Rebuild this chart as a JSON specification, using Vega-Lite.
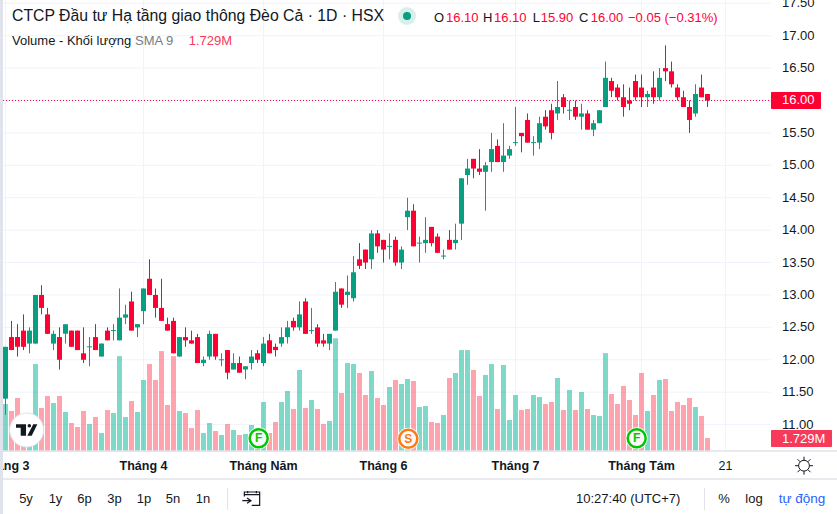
{
  "$schema": "https://vega.github.io/schema/vega-lite/v6.json",
  "width": 837,
  "height": 514,
  "padding": 0,
  "autosize": {"type": "none"},
  "background": "white",
  "config": {
    "font": "Liberation Sans",
    "view": {"stroke": null},
    "axis": {"domain": false, "ticks": false, "labels": false, "grid": false, "titleOpacity": 0}
  },
  "datasets": {
    "prices": [{"price":11},{"price":11.5},{"price":12},{"price":12.5},{"price":13},{"price":13.5},{"price":14},{"price":14.5},{"price":15},{"price":15.5},{"price":16},{"price":16.5},{"price":17},{"price":17.5}],
    "months": [{"i":0,"label":"Tháng 3"},{"i":23,"label":"Tháng 4"},{"i":43,"label":"Tháng Năm"},{"i":63,"label":"Tháng 6"},{"i":85,"label":"Tháng 7"},{"i":106,"label":"Tháng Tám"},{"i":120,"label":"21"}],
    "bars": [
      {"i":0,"open":11.4,"high":12.2,"low":11.15,"close":12.2,"volume":6.15},
      {"i":1,"open":12.35,"high":12.6,"low":12.15,"close":12.15,"volume":5.24},
      {"i":2,"open":12.35,"high":12.55,"low":12.05,"close":12.2,"volume":6.93},
      {"i":3,"open":12.45,"high":12.7,"low":12.15,"close":12.2,"volume":4.07},
      {"i":4,"open":12.25,"high":12.5,"low":12.1,"close":12.45,"volume":3.6},
      {"i":5,"open":12.25,"high":13.0,"low":12.25,"close":13.0,"volume":11.35},
      {"i":6,"open":13.0,"high":13.15,"low":12.7,"close":12.8,"volume":5.63},
      {"i":7,"open":12.7,"high":12.8,"low":12.4,"close":12.4,"volume":7.19},
      {"i":8,"open":12.25,"high":12.45,"low":12.15,"close":12.4,"volume":6.28},
      {"i":9,"open":12.35,"high":12.5,"low":11.85,"close":12.0,"volume":7.19},
      {"i":10,"open":12.4,"high":12.55,"low":12.25,"close":12.55,"volume":5.11},
      {"i":11,"open":12.45,"high":12.45,"low":12.2,"close":12.2,"volume":3.68},
      {"i":12,"open":12.45,"high":12.45,"low":12.15,"close":12.15,"volume":3.16},
      {"i":13,"open":12.1,"high":12.5,"low":11.95,"close":12.0,"volume":5.24},
      {"i":14,"open":12.2,"high":12.35,"low":11.9,"close":12.2,"volume":3.55},
      {"i":15,"open":12.35,"high":12.55,"low":12.15,"close":12.15,"volume":4.46},
      {"i":16,"open":12.05,"high":12.25,"low":12.05,"close":12.25,"volume":2.38},
      {"i":17,"open":12.45,"high":12.5,"low":12.3,"close":12.3,"volume":5.37},
      {"i":18,"open":12.45,"high":12.55,"low":12.3,"close":12.45,"volume":4.98},
      {"i":19,"open":12.3,"high":13.1,"low":12.3,"close":12.65,"volume":12.38},
      {"i":20,"open":12.65,"high":12.85,"low":12.55,"close":12.7,"volume":4.46},
      {"i":21,"open":12.9,"high":13.05,"low":12.45,"close":12.45,"volume":6.54},
      {"i":22,"open":12.5,"high":12.55,"low":12.35,"close":12.55,"volume":5.11},
      {"i":23,"open":12.75,"high":13.1,"low":12.55,"close":13.1,"volume":9.27},
      {"i":24,"open":13.25,"high":13.55,"low":13.0,"close":13.0,"volume":11.35},
      {"i":25,"open":13.0,"high":13.1,"low":12.65,"close":12.8,"volume":9.27},
      {"i":26,"open":12.8,"high":13.25,"low":12.6,"close":12.6,"volume":13.03},
      {"i":27,"open":12.55,"high":12.65,"low":12.45,"close":12.45,"volume":6.02},
      {"i":28,"open":12.6,"high":12.65,"low":12.1,"close":12.1,"volume":12.38},
      {"i":29,"open":12.05,"high":12.35,"low":12.05,"close":12.35,"volume":5.24},
      {"i":30,"open":12.35,"high":12.5,"low":12.2,"close":12.3,"volume":4.98},
      {"i":31,"open":12.3,"high":12.45,"low":12.25,"close":12.25,"volume":3.03},
      {"i":32,"open":12.35,"high":12.4,"low":11.95,"close":11.95,"volume":5.37},
      {"i":33,"open":11.95,"high":12.05,"low":11.9,"close":12.0,"volume":2.38},
      {"i":34,"open":12.05,"high":12.45,"low":12.0,"close":12.4,"volume":3.68},
      {"i":35,"open":12.4,"high":12.4,"low":12.0,"close":12.05,"volume":2.64},
      {"i":36,"open":12.0,"high":12.1,"low":11.9,"close":12.0,"volume":2.12},
      {"i":37,"open":12.15,"high":12.15,"low":11.7,"close":11.8,"volume":3.55},
      {"i":38,"open":11.85,"high":12.1,"low":11.85,"close":11.95,"volume":2.77},
      {"i":39,"open":11.95,"high":12.05,"low":11.8,"close":11.8,"volume":2.12},
      {"i":40,"open":11.85,"high":11.9,"low":11.7,"close":11.9,"volume":2.25},
      {"i":41,"open":11.95,"high":12.15,"low":11.85,"close":12.05,"volume":3.42},
      {"i":42,"open":12.1,"high":12.15,"low":11.95,"close":12.0,"volume":2.12},
      {"i":43,"open":11.95,"high":12.35,"low":11.9,"close":12.25,"volume":6.41},
      {"i":44,"open":12.3,"high":12.4,"low":12.1,"close":12.1,"volume":2.38},
      {"i":45,"open":12.2,"high":12.25,"low":12.05,"close":12.15,"volume":3.81},
      {"i":46,"open":12.25,"high":12.5,"low":12.2,"close":12.35,"volume":6.41},
      {"i":47,"open":12.35,"high":12.6,"low":12.25,"close":12.5,"volume":7.84},
      {"i":48,"open":12.6,"high":12.65,"low":12.45,"close":12.5,"volume":5.5},
      {"i":49,"open":12.5,"high":12.9,"low":12.45,"close":12.7,"volume":10.57},
      {"i":50,"open":12.9,"high":12.95,"low":12.4,"close":12.4,"volume":5.63},
      {"i":51,"open":12.45,"high":12.8,"low":12.4,"close":12.45,"volume":6.67},
      {"i":52,"open":12.5,"high":12.55,"low":12.2,"close":12.25,"volume":5.5},
      {"i":53,"open":12.3,"high":12.4,"low":12.2,"close":12.25,"volume":3.55},
      {"i":54,"open":12.25,"high":12.4,"low":12.15,"close":12.4,"volume":3.94},
      {"i":55,"open":12.45,"high":13.2,"low":12.45,"close":13.05,"volume":14.7},
      {"i":56,"open":13.1,"high":13.1,"low":12.8,"close":12.85,"volume":7.58},
      {"i":57,"open":13.0,"high":13.3,"low":12.8,"close":13.05,"volume":11.47},
      {"i":58,"open":12.95,"high":13.6,"low":12.9,"close":13.35,"volume":11.35},
      {"i":59,"open":13.55,"high":13.8,"low":13.4,"close":13.45,"volume":10.18},
      {"i":60,"open":13.7,"high":13.7,"low":13.4,"close":13.5,"volume":7.32},
      {"i":61,"open":13.55,"high":14.0,"low":13.4,"close":13.95,"volume":10.44},
      {"i":62,"open":13.95,"high":14.0,"low":13.65,"close":13.75,"volume":6.93},
      {"i":63,"open":13.85,"high":13.85,"low":13.5,"close":13.7,"volume":6.02},
      {"i":64,"open":13.75,"high":13.95,"low":13.55,"close":13.75,"volume":8.36},
      {"i":65,"open":13.85,"high":13.9,"low":13.45,"close":13.5,"volume":9.27},
      {"i":66,"open":13.5,"high":13.75,"low":13.4,"close":13.7,"volume":8.75},
      {"i":67,"open":14.2,"high":14.5,"low":14.0,"close":14.3,"volume":9.4},
      {"i":68,"open":14.3,"high":14.4,"low":13.75,"close":13.75,"volume":9.14},
      {"i":69,"open":13.8,"high":13.9,"low":13.5,"close":13.8,"volume":5.76},
      {"i":70,"open":13.8,"high":14.2,"low":13.65,"close":13.85,"volume":5.89},
      {"i":71,"open":14.05,"high":14.05,"low":13.75,"close":13.8,"volume":3.81},
      {"i":72,"open":13.9,"high":13.95,"low":13.65,"close":13.65,"volume":3.68},
      {"i":73,"open":13.6,"high":13.7,"low":13.55,"close":13.6,"volume":4.72},
      {"i":74,"open":13.85,"high":14.0,"low":13.7,"close":13.7,"volume":9.53},
      {"i":75,"open":13.8,"high":14.1,"low":13.7,"close":13.85,"volume":10.18},
      {"i":76,"open":14.1,"high":14.8,"low":13.85,"close":14.8,"volume":13.16},
      {"i":77,"open":14.85,"high":15.1,"low":14.7,"close":14.95,"volume":13.16},
      {"i":78,"open":15.1,"high":15.1,"low":14.8,"close":14.95,"volume":10.57},
      {"i":79,"open":14.95,"high":15.25,"low":14.85,"close":14.9,"volume":7.19},
      {"i":80,"open":14.9,"high":15.05,"low":14.3,"close":15.0,"volume":9.92},
      {"i":81,"open":15.05,"high":15.5,"low":14.9,"close":15.25,"volume":11.35},
      {"i":82,"open":15.3,"high":15.4,"low":15.05,"close":15.05,"volume":5.5},
      {"i":83,"open":15.05,"high":15.65,"low":14.9,"close":15.15,"volume":11.22},
      {"i":84,"open":15.15,"high":15.3,"low":15.1,"close":15.25,"volume":4.07},
      {"i":85,"open":15.35,"high":15.9,"low":15.3,"close":15.35,"volume":7.32},
      {"i":86,"open":15.5,"high":15.5,"low":15.2,"close":15.45,"volume":5.37},
      {"i":87,"open":15.7,"high":15.8,"low":15.35,"close":15.35,"volume":5.5},
      {"i":88,"open":15.35,"high":15.45,"low":15.15,"close":15.35,"volume":7.32},
      {"i":89,"open":15.35,"high":15.75,"low":15.25,"close":15.65,"volume":7.06},
      {"i":90,"open":15.75,"high":15.85,"low":15.55,"close":15.6,"volume":6.15},
      {"i":91,"open":15.85,"high":15.95,"low":15.4,"close":15.5,"volume":6.41},
      {"i":92,"open":15.8,"high":16.3,"low":15.7,"close":15.9,"volume":9.53},
      {"i":93,"open":16.05,"high":16.1,"low":15.8,"close":15.9,"volume":5.37},
      {"i":94,"open":15.85,"high":16.0,"low":15.7,"close":15.85,"volume":7.97},
      {"i":95,"open":15.9,"high":16.0,"low":15.7,"close":15.75,"volume":5.37},
      {"i":96,"open":15.75,"high":15.95,"low":15.55,"close":15.8,"volume":7.71},
      {"i":97,"open":15.8,"high":15.85,"low":15.55,"close":15.55,"volume":5.5},
      {"i":98,"open":15.55,"high":15.7,"low":15.45,"close":15.65,"volume":4.72},
      {"i":99,"open":15.65,"high":15.85,"low":15.65,"close":15.85,"volume":4.59},
      {"i":100,"open":15.9,"high":16.6,"low":15.9,"close":16.35,"volume":12.77},
      {"i":101,"open":16.3,"high":16.35,"low":16.05,"close":16.15,"volume":7.45},
      {"i":102,"open":16.2,"high":16.25,"low":16.0,"close":16.05,"volume":6.15},
      {"i":103,"open":16.05,"high":16.25,"low":15.75,"close":15.9,"volume":8.49},
      {"i":104,"open":16.0,"high":16.2,"low":15.85,"close":15.95,"volume":6.67},
      {"i":105,"open":16.3,"high":16.4,"low":16.0,"close":16.05,"volume":4.72},
      {"i":106,"open":16.2,"high":16.4,"low":15.9,"close":16.05,"volume":10.18},
      {"i":107,"open":16.05,"high":16.15,"low":15.9,"close":16.1,"volume":5.24},
      {"i":108,"open":16.2,"high":16.45,"low":15.95,"close":16.05,"volume":7.32},
      {"i":109,"open":16.05,"high":16.5,"low":16.0,"close":16.35,"volume":9.27},
      {"i":110,"open":16.5,"high":16.85,"low":16.3,"close":16.45,"volume":9.4},
      {"i":111,"open":16.45,"high":16.6,"low":16.2,"close":16.25,"volume":5.24},
      {"i":112,"open":16.2,"high":16.25,"low":16.0,"close":16.05,"volume":6.41},
      {"i":113,"open":16.05,"high":16.15,"low":15.9,"close":15.9,"volume":6.02},
      {"i":114,"open":15.9,"high":16.0,"low":15.5,"close":15.7,"volume":6.93},
      {"i":115,"open":15.8,"high":16.25,"low":15.75,"close":16.1,"volume":5.76},
      {"i":116,"open":16.2,"high":16.4,"low":16.05,"close":16.05,"volume":4.59},
      {"i":117,"open":16.1,"high":16.1,"low":15.9,"close":16.0,"volume":1.729}
    ]
  },
  "resolve": {"scale": {"y": "independent"}},
  "layer": [
    {
      "layer": [
        {
          "data": {"name": "months"},
          "mark": {"type": "rule", "color": "#f0f3fa", "strokeWidth": 1},
          "encoding": {
            "x": {
              "field": "i", "type": "quantitative", "axis": {"title": null},
              "scale": {"domain": [-0.9167, 138.583], "nice": false, "zero": false, "padding": 0}
            },
            "y": {"datum": 17.5504, "axis": {"title": null}},
            "y2": {"datum": 10.5927}
          }
        },
        {
          "data": {"name": "prices"},
          "mark": {"type": "rule", "color": "#f0f3fa", "strokeWidth": 1},
          "encoding": {
            "y": {
              "field": "price", "type": "quantitative", "axis": {"title": null},
              "scale": {"domain": [9.6208, 17.5504], "nice": false, "zero": false}
            },
            "x": {"datum": -0.4167, "axis": {"title": null}},
            "x2": {"datum": 127.583}
          }
        }
      ]
    },
    {
      "data": {"name": "bars"},
      "mark": {"type": "bar", "size": 5},
      "encoding": {
        "x": {"field": "i", "type": "quantitative", "axis": {"title": null}},
        "y": {"field": "volume", "type": "quantitative", "axis": {"title": null}, "scale": {"domain": [-8.147, 58.67], "nice": false, "zero": false}},
        "y2": {"datum": 0},
        "color": {"condition": {"test": "datum.close>=datum.open", "value": "#00b394"}, "value": "#ff4760"},
        "opacity": {"value": 0.5}
      }
    },
    {
      "layer": [
        {
          "mark": {"type": "rule", "color": "#ff0033", "strokeWidth": 1, "strokeDash": [1, 2]},
          "data": {"values": [{"last": 16}]},
          "encoding": {
            "y": {"field": "last", "type": "quantitative", "axis": {"title": null}, "scale": {"domain": [9.6208, 17.5504], "nice": false, "zero": false}},
            "x": {"datum": -0.4167, "axis": {"title": null}},
            "x2": {"datum": 127.583}
          }
        },
        {
          "data": {"name": "bars"},
          "mark": {"type": "rule", "strokeWidth": 1},
          "encoding": {
            "x": {"field": "i", "type": "quantitative"},
            "y": {"field": "low", "type": "quantitative"},
            "y2": {"field": "high"},
            "color": {"condition": {"test": "datum.close>=datum.open", "value": "#089e80"}, "value": "#ff0033"}
          }
        },
        {
          "data": {"name": "bars"},
          "mark": {"type": "bar", "size": 5},
          "encoding": {
            "x": {"field": "i", "type": "quantitative"},
            "y": {"field": "open", "type": "quantitative"},
            "y2": {"field": "close"},
            "color": {"condition": {"test": "datum.close>=datum.open", "value": "#089e80"}, "value": "#ff0033"}
          }
        },
        {
          "data": {"name": "bars"},
          "transform": [{"filter": "datum.open==datum.close"}],
          "mark": {"type": "tick", "orient": "horizontal", "size": 5, "thickness": 1, "color": "#089e80", "opacity": 1},
          "encoding": {
            "x": {"field": "i", "type": "quantitative"},
            "y": {"field": "close", "type": "quantitative"}
          }
        },
        {
          "data": {"name": "prices"},
          "mark": {"type": "text", "align": "left", "baseline": "middle", "fontSize": 13, "color": "#131722"},
          "encoding": {
            "x": {"datum": 129.417},
            "y": {"field": "price", "type": "quantitative"},
            "text": {"field": "price", "type": "quantitative", "format": ".2f"}
          }
        },
        {
          "data": {"name": "months"},
          "transform": [{"filter": "datum.label!='21'"}],
          "mark": {"type": "text", "align": "center", "baseline": "middle", "fontSize": 12.5, "fontWeight": "bold", "color": "#131722"},
          "encoding": {
            "x": {"field": "i", "type": "quantitative"},
            "y": {"datum": 10.366},
            "text": {"field": "label"}
          }
        },
        {
          "data": {"name": "months"},
          "transform": [{"filter": "datum.label=='21'"}],
          "mark": {"type": "text", "align": "center", "baseline": "middle", "fontSize": 12.5, "color": "#131722"},
          "encoding": {
            "x": {"field": "i", "type": "quantitative"},
            "y": {"datum": 10.366},
            "text": {"field": "label"}
          }
        },
        {
          "mark": {"type": "rect", "color": "#e0e3eb"},
          "data": {"values": [{}]},
          "encoding": {"x": {"datum": -0.9167}, "x2": {"datum": -0.4167}, "y": {"datum": 17.5504}, "y2": {"datum": 9.6208}}
        },
        {
          "mark": {"type": "rule", "color": "#e0e3eb", "strokeWidth": 1.5},
          "data": {"values": [{}]},
          "encoding": {"x": {"datum": -0.4167}, "x2": {"datum": 138.583}, "y": {"datum": 10.5927}}
        },
        {
          "mark": {"type": "rule", "color": "#e0e3eb", "strokeWidth": 1.5},
          "data": {"values": [{}]},
          "encoding": {"x": {"datum": -0.4167}, "x2": {"datum": 138.583}, "y": {"datum": 10.1608}}
        },
        {
          "mark": {"type": "rule", "color": "#e0e3eb", "strokeWidth": 1},
          "data": {"values": [{}]},
          "encoding": {"x": {"datum": 37}, "y": {"datum": 10.022}, "y2": {"datum": 9.6825}}
        },
        {
          "mark": {"type": "rule", "color": "#e0e3eb", "strokeWidth": 1},
          "data": {"values": [{}]},
          "encoding": {"x": {"datum": 116.5}, "y": {"datum": 10.022}, "y2": {"datum": 9.6825}}
        },
        {
          "mark": {"type": "rect", "color": "#ff0033", "cornerRadius": 1},
          "data": {"values": [{}]},
          "encoding": {"x": {"datum": 127.583}, "x2": {"datum": 135.917}, "y": {"datum": 16.1311}, "y2": {"datum": 15.8689}}
        },
        {
          "mark": {"type": "rect", "color": "#f7395a", "cornerRadius": 1},
          "data": {"values": [{}]},
          "encoding": {"x": {"datum": 127.583}, "x2": {"datum": 137.75}, "y": {"datum": 10.9167}, "y2": {"datum": 10.6544}}
        },
        {
          "mark": {"type": "text", "align": "left", "baseline": "middle", "fontSize": 13, "color": "white"},
          "data": {"values": [{}]},
          "encoding": {"x": {"datum": 129.417}, "y": {"datum": 16}, "text": {"value": "16.00"}}
        },
        {
          "mark": {"type": "text", "align": "left", "baseline": "middle", "fontSize": 13, "color": "white"},
          "data": {"values": [{}]},
          "encoding": {"x": {"datum": 129.417}, "y": {"datum": 10.7855}, "text": {"value": "1.729M"}}
        },
        {
          "mark": {"type": "text", "align": "left", "baseline": "alphabetic", "fontSize": 15.8, "color": "#131722"},
          "data": {"values": [{}]},
          "encoding": {"x": {"datum": 1.0833}, "y": {"datum": 17.2265}, "text": {"value": "CTCP Đầu tư Hạ tầng giao thông Đèo Cả · 1D · HSX"}}
        },
        {
          "mark": {"type": "text", "align": "left", "baseline": "alphabetic", "fontSize": 13, "color": "#131722"},
          "data": {"values": [{}]},
          "encoding": {"x": {"datum": 1.0833}, "y": {"datum": 16.8562}, "text": {"value": "Volume - Khối lượng"}}
        },
        {
          "mark": {"type": "text", "align": "left", "baseline": "alphabetic", "fontSize": 13, "color": "#787b86"},
          "data": {"values": [{}]},
          "encoding": {"x": {"datum": 21.5833}, "y": {"datum": 16.8562}, "text": {"value": "SMA 9"}}
        },
        {
          "mark": {"type": "text", "align": "left", "baseline": "alphabetic", "fontSize": 13, "color": "#f7395a"},
          "data": {"values": [{}]},
          "encoding": {"x": {"datum": 30.533}, "y": {"datum": 16.8562}, "text": {"value": "1.729M"}}
        },
        {
          "mark": {"type": "point", "shape": "circle", "filled": true, "size": 324, "color": "#d8f0ea", "opacity": 1},
          "data": {"values": [{}]},
          "encoding": {"x": {"datum": 66.917}, "y": {"datum": 17.3036}}
        },
        {
          "mark": {"type": "point", "shape": "circle", "filled": true, "size": 64, "color": "#089e80", "opacity": 1},
          "data": {"values": [{}]},
          "encoding": {"x": {"datum": 66.917}, "y": {"datum": 17.3036}}
        },
        {
          "mark": {"type": "text", "align": "left", "baseline": "alphabetic", "fontSize": 13, "color": "#131722"},
          "data": {"values": [{}]},
          "encoding": {"x": {"datum": 71.417}, "y": {"datum": 17.211}, "text": {"value": "O"}}
        },
        {
          "mark": {"type": "text", "align": "left", "baseline": "alphabetic", "fontSize": 13, "color": "#ff0033"},
          "data": {"values": [{}]},
          "encoding": {"x": {"datum": 73.417}, "y": {"datum": 17.211}, "text": {"value": "16.10"}}
        },
        {
          "mark": {"type": "text", "align": "left", "baseline": "alphabetic", "fontSize": 13, "color": "#131722"},
          "data": {"values": [{}]},
          "encoding": {"x": {"datum": 79.583}, "y": {"datum": 17.211}, "text": {"value": "H"}}
        },
        {
          "mark": {"type": "text", "align": "left", "baseline": "alphabetic", "fontSize": 13, "color": "#ff0033"},
          "data": {"values": [{}]},
          "encoding": {"x": {"datum": 81.417}, "y": {"datum": 17.211}, "text": {"value": "16.10"}}
        },
        {
          "mark": {"type": "text", "align": "left", "baseline": "alphabetic", "fontSize": 13, "color": "#131722"},
          "data": {"values": [{}]},
          "encoding": {"x": {"datum": 87.867}, "y": {"datum": 17.211}, "text": {"value": "L"}}
        },
        {
          "mark": {"type": "text", "align": "left", "baseline": "alphabetic", "fontSize": 13, "color": "#ff0033"},
          "data": {"values": [{}]},
          "encoding": {"x": {"datum": 89.2}, "y": {"datum": 17.211}, "text": {"value": "15.90"}}
        },
        {
          "mark": {"type": "text", "align": "left", "baseline": "alphabetic", "fontSize": 13, "color": "#131722"},
          "data": {"values": [{}]},
          "encoding": {"x": {"datum": 95.583}, "y": {"datum": 17.211}, "text": {"value": "C"}}
        },
        {
          "mark": {"type": "text", "align": "left", "baseline": "alphabetic", "fontSize": 13, "color": "#ff0033"},
          "data": {"values": [{}]},
          "encoding": {"x": {"datum": 97.533}, "y": {"datum": 17.211}, "text": {"value": "16.00"}}
        },
        {
          "mark": {"type": "text", "align": "left", "baseline": "alphabetic", "fontSize": 13, "color": "#ff0033"},
          "data": {"values": [{}]},
          "encoding": {"x": {"datum": 103.75}, "y": {"datum": 17.211}, "text": {"value": "−0.05 (−0.31%)"}}
        },
        {
          "mark": {"type": "text", "align": "center", "baseline": "middle", "fontSize": 13, "color": "#131722"},
          "data": {"values": [{"label":"5y","at":3.417},{"label":"1y","at":8.333},{"label":"6p","at":13.167},{"label":"3p","at":18.167},{"label":"1p","at":23.083},{"label":"5n","at":27.917},{"label":"1n","at":32.917}]},
          "encoding": {"x": {"field": "at", "type": "quantitative"}, "y": {"datum": 9.852}, "text": {"field": "label"}}
        },
        {
          "mark": {"type": "text", "align": "left", "baseline": "middle", "fontSize": 13, "color": "#131722"},
          "data": {"values": [{}]},
          "encoding": {"x": {"datum": 95.083}, "y": {"datum": 9.852}, "text": {"value": "10:27:40 (UTC+7)"}}
        },
        {
          "mark": {"type": "text", "align": "center", "baseline": "middle", "fontSize": 13, "color": "#131722"},
          "data": {"values": [{}]},
          "encoding": {"x": {"datum": 119.75}, "y": {"datum": 9.852}, "text": {"value": "%"}}
        },
        {
          "mark": {"type": "text", "align": "center", "baseline": "middle", "fontSize": 13, "color": "#131722"},
          "data": {"values": [{}]},
          "encoding": {"x": {"datum": 124.75}, "y": {"datum": 9.852}, "text": {"value": "log"}}
        },
        {
          "mark": {"type": "text", "align": "center", "baseline": "middle", "fontSize": 13.5, "color": "#2962ff"},
          "data": {"values": [{}]},
          "encoding": {"x": {"datum": 132.75}, "y": {"datum": 9.852}, "text": {"value": "tự động"}}
        },
        {
          "mark": {"type": "point", "filled": false, "size": 324, "strokeWidth": 1, "color": "#131722", "opacity": 1, "shape": "M-.6,0A.6,.6 0 1,0 .6,0A.6,.6 0 1,0 -.6,0Z M0,-1L0,-.6 M0,1L0,.6 M1,0L.6,0 M-1,0L-.6,0 M.72,-.72L.43,-.43 M-.72,-.72L-.43,-.43 M.72,.72L.43,.43 M-.72,.72L-.43,.43"},
          "data": {"values": [{}]},
          "encoding": {"x": {"datum": 133.083}, "y": {"datum": 10.366}}
        },
        {
          "mark": {"type": "point", "filled": false, "size": 300, "strokeWidth": 1.2, "color": "#131722", "opacity": 1, "shape": "M-.77,-.2L-.77,-.73L1,-.73L1,.81L.08,.81 M-.77,-.42L1,-.42 M-.38,-.85L-.38,-.58 M.62,-.85L.62,-.58 M-1,.27L0,.27 M-.46,-.04L0,.27L-.46,.58"},
          "data": {"values": [{}]},
          "encoding": {"x": {"datum": 40.917}, "y": {"datum": 9.863}}
        },
        {
          "mark": {"type": "point", "shape": "circle", "filled": true, "size": 1156, "fill": "white", "stroke": "#e0e3eb", "strokeWidth": 1, "opacity": 1},
          "data": {"values": [{}]},
          "encoding": {"x": {"datum": 3.528}, "y": {"datum": 10.9167}}
        },
        {
          "mark": {"type": "point", "filled": true, "size": 455, "color": "#131722", "opacity": 1, "shape": "M-1,-.53H-.06V.53H-.56V-.22H-1Z M.62,-.53H1L.47,.53H.06Z M.09,-.4A.16,.16 0 1,0 .41,-.4A.16,.16 0 1,0 .09,-.4Z"},
          "data": {"values": [{}]},
          "encoding": {"x": {"datum": 3.528}, "y": {"datum": 10.9167}}
        },
        {
          "mark": {"type": "point", "shape": "circle", "filled": true, "size": 484, "color": "white", "opacity": 0.9},
          "data": {"values": [{"at":42.2,"price":10.7886},{"at":67.133,"price":10.7826},{"at":105.2,"price":10.7886}]},
          "encoding": {"x": {"field": "at", "type": "quantitative"}, "y": {"field": "price", "type": "quantitative"}}
        },
        {
          "mark": {"type": "point", "shape": "circle", "filled": false, "size": 324, "strokeWidth": 2.5, "opacity": 1},
          "data": {"values": [{"at":42.2,"price":10.7886,"kind":"F"},{"at":67.133,"price":10.7826,"kind":"S"},{"at":105.2,"price":10.7886,"kind":"F"}]},
          "encoding": {
            "x": {"field": "at", "type": "quantitative"}, "y": {"field": "price", "type": "quantitative"},
            "color": {"condition": {"test": "datum.kind=='S'", "value": "#ff7a14"}, "value": "#00c800"}
          }
        },
        {
          "mark": {"type": "text", "align": "center", "baseline": "middle", "fontSize": 12, "fontWeight": "bold"},
          "data": {"values": [{"at":42.2,"price":10.7886,"kind":"F"},{"at":67.133,"price":10.7826,"kind":"S"},{"at":105.2,"price":10.7886,"kind":"F"}]},
          "encoding": {
            "x": {"field": "at", "type": "quantitative"}, "y": {"field": "price", "type": "quantitative"},
            "text": {"field": "kind"},
            "color": {"condition": {"test": "datum.kind=='S'", "value": "#ff7a14"}, "value": "#00c800"}
          }
        }
      ]
    }
  ]
}
